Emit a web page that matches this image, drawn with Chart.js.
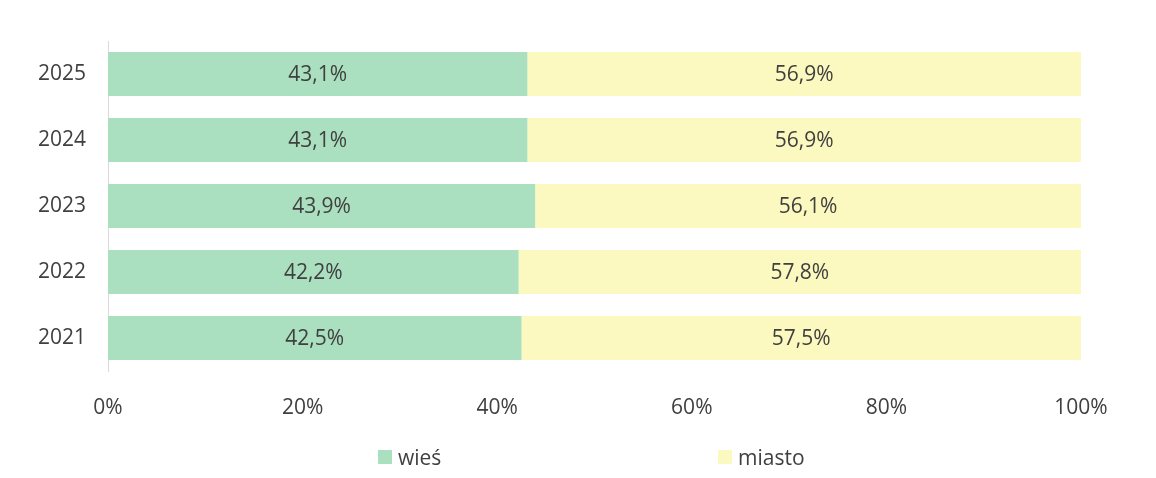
<!DOCTYPE html>
<html lang="pl">
<head>
    <meta charset="UTF-8">
    <title>wieś / miasto</title>
    <script src="https://cdn.jsdelivr.net/npm/chart.js"></script>
    <style>
        body { margin: 0; background: #fff; }
        #wrap { position: relative; width: 1156px; height: 478px; }
        .leg { position: absolute; top: 443px; font: 21px "Open Sans", sans-serif; color: #404040; display: flex; align-items: center; }
        .leg span.box { display: inline-block; width: 14px; height: 14px; margin-right: 6px; }
    </style>
</head>
<body>
    <div id="wrap">
        <canvas id="chart" width="1156" height="478"></canvas>
        <div class="leg" id="leg0" style="left:378px"></div>
        <div class="leg" id="leg1" style="left:718px"></div>
    </div>

    <script>
        const years = ['2025', '2024', '2023', '2022', '2021'];
        const wies = [43.1, 43.1, 43.9, 42.2, 42.5];
        const miasto = [56.9, 56.9, 56.1, 57.8, 57.5];
        const seriesNames = ['wieś', 'miasto'];
        const colors = ['#aadfbf', '#fbf9bf'];
        const xTicks = [0, 20, 40, 60, 80, 100];

        const textColor = '#404040';
        const font = { family: '"Open Sans", sans-serif', size: 21 };

        // labels in the middle of each segment, comma as decimal mark
        const barLabels = {
            id: 'barLabels',
            afterDatasetsDraw(chart) {
                const c = chart.ctx;
                c.save();
                c.font = '21px "Open Sans", sans-serif';
                c.fillStyle = textColor;
                c.textAlign = 'center';
                c.textBaseline = 'middle';
                chart.data.datasets.forEach((ds, i) => {
                    chart.getDatasetMeta(i).data.forEach((bar, j) => {
                        const p = bar.getProps(['x', 'y', 'base']);
                        const txt = ds.data[j].toFixed(1).replace('.', ',') + '%';
                        c.fillText(txt, (p.x + p.base) / 2, p.y + 1);
                    });
                });
                c.restore();
            }
        };

        const ctx = document.getElementById('chart').getContext('2d');
        const chart = new Chart(ctx, {
            type: 'bar',
            data: {
                labels: years,
                datasets: [
                    { label: seriesNames[0], data: wies, backgroundColor: colors[0] },
                    { label: seriesNames[1], data: miasto, backgroundColor: colors[1] }
                ]
            },
            options: {
                indexAxis: 'y',
                responsive: false,
                animation: false,
                barPercentage: 0.667,
                categoryPercentage: 1,
                layout: { padding: { top: 41, right: 75, left: 0, bottom: 0 } },
                plugins: {
                    legend: { display: false },
                    tooltip: { enabled: false }
                },
                scales: {
                    x: {
                        stacked: true,
                        min: 0,
                        max: 100,
                        afterFit: s => { s.height = 107; },
                        afterBuildTicks: s => { s.ticks = xTicks.map(v => ({ value: v })); },
                        grid: { display: false, drawTicks: false },
                        border: { display: false },
                        ticks: {
                            padding: 24,
                            color: textColor,
                            font: font,
                            maxRotation: 0,
                            callback: v => v + '%'
                        }
                    },
                    y: {
                        stacked: true,
                        afterFit: s => { s.width = 108; },
                        grid: { display: false, drawTicks: false },
                        border: { display: true, color: '#d9d9d9', width: 1 },
                        ticks: { padding: 22, color: textColor, font: font }
                    }
                }
            },
            plugins: [barLabels]
        });

        seriesNames.forEach((name, i) => {
            const el = document.getElementById('leg' + i);
            el.innerHTML = '<span class="box" style="background:' + colors[i] + '"></span>' + name;
        });
    </script>
</body>
</html>
